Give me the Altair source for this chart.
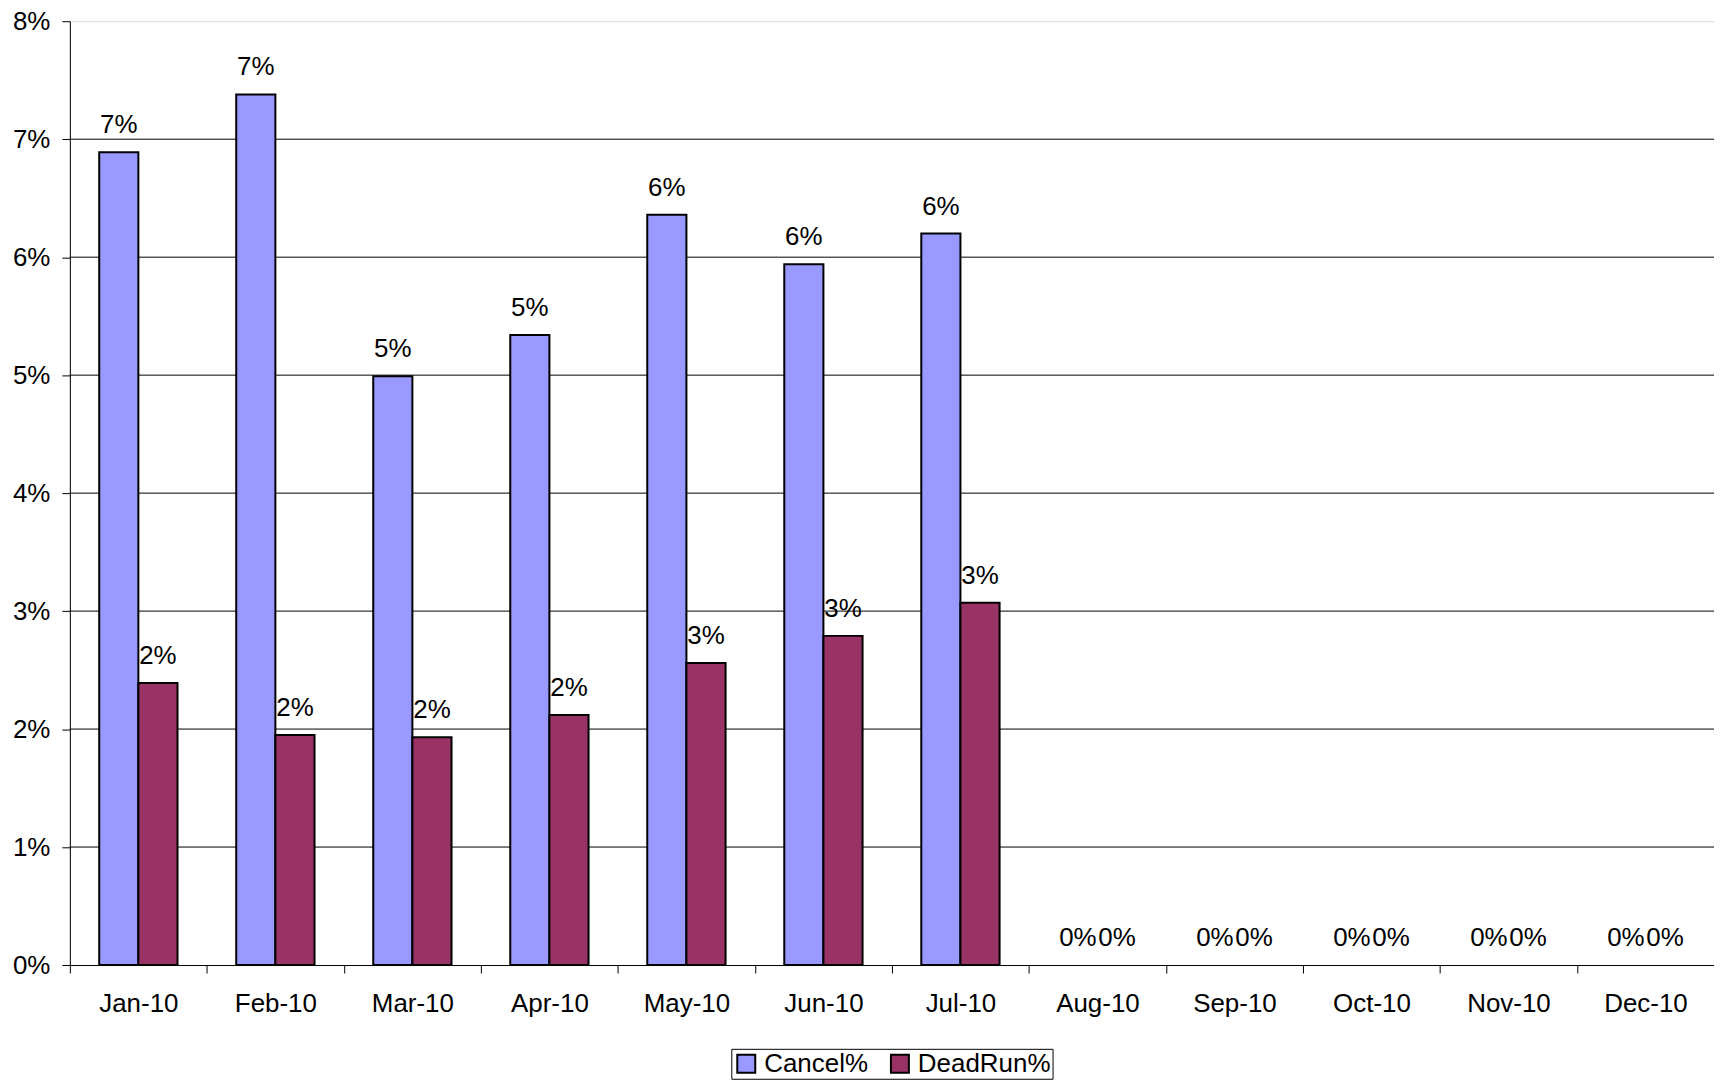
import altair as alt
import pandas as pd

FONT = "Liberation Sans"

months = ["Jan-10", "Feb-10", "Mar-10", "Apr-10", "May-10", "Jun-10",
          "Jul-10", "Aug-10", "Sep-10", "Oct-10", "Nov-10", "Dec-10"]
series_names = ["Cancel%", "DeadRun%"]
series_colors = ["#9999FF", "#993366"]
cancel_pct = [0.0689, 0.0738, 0.0499, 0.0534, 0.0636, 0.0594, 0.0620, 0, 0, 0, 0, 0]
deadrun_pct = [0.0239, 0.0195, 0.0193, 0.0212, 0.0256, 0.0279, 0.0307, 0, 0, 0, 0, 0]
y_ticks = [0, 0.01, 0.02, 0.03, 0.04, 0.05, 0.06, 0.07, 0.08]
grid_values = [0.01, 0.02, 0.03, 0.04, 0.05, 0.06, 0.07]

rows = []
for i, m in enumerate(months):
    rows.append({"month": m, "series": series_names[0], "value": cancel_pct[i]})
    rows.append({"month": m, "series": series_names[1], "value": deadrun_pct[i]})
df = pd.DataFrame(rows)
grid_df = pd.DataFrame({"value": grid_values})

x_enc = alt.X(
    "month:N", sort=months,
    scale=alt.Scale(paddingInner=0, paddingOuter=0),
    axis=alt.Axis(title=None, labelAngle=0, tickBand="extent", tickSize=8,
                  labelPadding=18, labelFontSize=26, labelFont=FONT,
                  labelColor="black", domainColor="black", tickColor="black",
                  grid=False),
)
xo_enc = alt.XOffset("series:N", sort=series_names,
                     scale=alt.Scale(paddingOuter=0.75, paddingInner=0))
y_enc = alt.Y(
    "value:Q",
    scale=alt.Scale(domain=[0, 0.08], nice=False, zero=True),
    axis=alt.Axis(title=None, values=y_ticks, format=".0%", grid=False,
                  tickSize=8, labelPadding=12, labelFontSize=26, labelFont=FONT,
                  labelColor="black", domainColor="black", tickColor="black"),
)

grid = alt.Chart(grid_df).mark_rule(color="black", strokeWidth=1).encode(
    y=alt.Y("value:Q")
)

bars = alt.Chart(df).mark_bar(stroke="black", strokeWidth=2).encode(
    x=x_enc,
    xOffset=xo_enc,
    y=y_enc,
    color=alt.Color(
        "series:N", sort=series_names,
        scale=alt.Scale(domain=series_names, range=series_colors),
        legend=alt.Legend(
            orient="none", legendX=663, legendY=1030, direction="horizontal",
            title=None, labelFontSize=26, labelFont=FONT, labelColor="black",
            symbolType="square", symbolSize=324, symbolStrokeColor="black",
            symbolStrokeWidth=2, symbolOpacity=1, strokeColor="black",
            fillColor="white", padding=2, columnPadding=18, labelOffset=5,
            cornerRadius=0,
        ),
    ),
    strokeOpacity=alt.condition(alt.datum.value == 0, alt.value(0), alt.value(1)),
)

labels = alt.Chart(df).mark_text(
    dy=-19, baseline="alphabetic", align="center", fontSize=26, font=FONT,
    color="black",
).encode(
    x=alt.X("month:N", sort=months),
    xOffset=alt.XOffset("series:N", sort=series_names),
    y=alt.Y("value:Q"),
    text=alt.Text("value:Q", format=".0%"),
)

chart = alt.layer(grid, bars, labels).properties(
    width=1648, height=946,
    autosize=alt.AutoSizeParams(type="none"),
    padding={"left": 62, "top": 12, "right": 0, "bottom": 122},
).configure_view(stroke=None).configure(font=FONT)

chart.save("out.html", embed_options={"renderer": "svg", "actions": False})
